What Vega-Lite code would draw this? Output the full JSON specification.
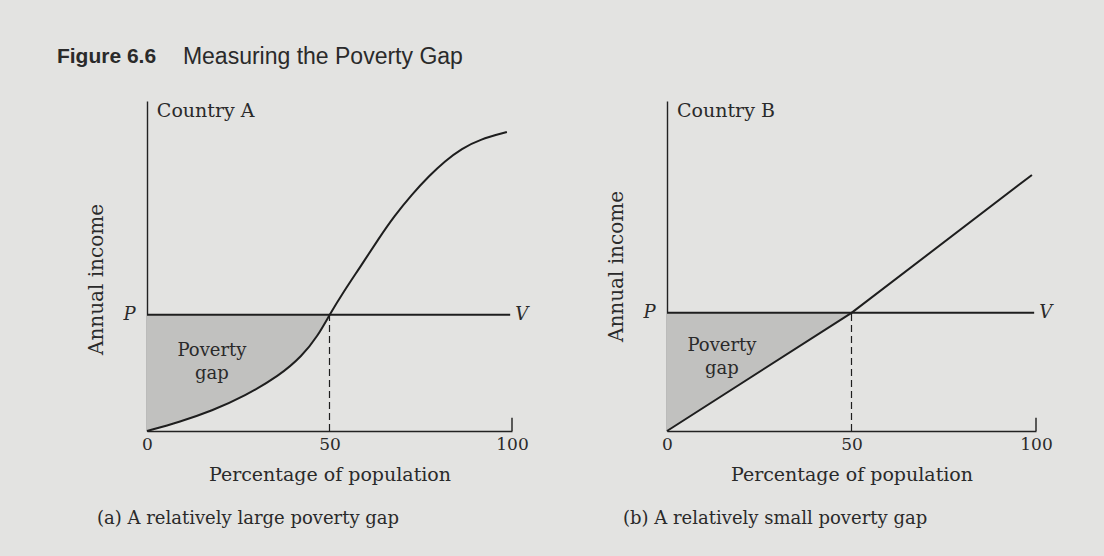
{
  "$schema": "https://vega.github.io/schema/vega-lite/v6.json",
  "background": "#e3e3e1",
  "padding": {"left": 56, "top": 46, "right": 57, "bottom": 30},
  "config": {
    "view": {"stroke": null},
    "font": "DejaVu Serif",
    "axis": {
      "domainColor": "#222222",
      "domainWidth": 1.4,
      "grid": false,
      "ticks": false,
      "tickSize": 0,
      "labelFont": "DejaVu Serif",
      "labelColor": "#2a2a2a",
      "titleFont": "DejaVu Serif",
      "titleFontWeight": "normal",
      "titleColor": "#2a2a2a",
      "labelFlush": false
    }
  },
  "datasets": {
    "curveA": [
      {"x": 0, "y": 0},
      {"x": 8.8, "y": 2.7},
      {"x": 17.8, "y": 6.1},
      {"x": 26.8, "y": 10.6},
      {"x": 36.2, "y": 16.7},
      {"x": 42.5, "y": 22.7},
      {"x": 46.8, "y": 28.8},
      {"x": 50, "y": 35.2},
      {"x": 53.8, "y": 42.1},
      {"x": 58.6, "y": 50.0},
      {"x": 63.4, "y": 58.2},
      {"x": 67.8, "y": 65.2},
      {"x": 72.5, "y": 71.6},
      {"x": 77.3, "y": 77.3},
      {"x": 81.6, "y": 81.8},
      {"x": 86.3, "y": 85.6},
      {"x": 91.0, "y": 88.3},
      {"x": 98.6, "y": 90.6}
    ],
    "lineB": [
      {"x": 0, "y": 0},
      {"x": 50, "y": 35.8},
      {"x": 98.9, "y": 77.6}
    ],
    "one": [{}]
  },
  "title": {
    "text": "Figure 6.6",
    "anchor": "start",
    "font": "Liberation Sans",
    "fontSize": 21,
    "fontWeight": "bold",
    "color": "#2a2a2a",
    "dx": -30,
    "dy": 21,
    "offset": 0
  },
  "vconcat": [
    {
      "title": {
        "text": "Measuring the Poverty Gap",
        "anchor": "start",
        "font": "Liberation Sans",
        "fontSize": 23,
        "fontWeight": "normal",
        "color": "#2a2a2a",
        "dx": 96,
        "offset": 32
      },
      "spacing": 77,
      "hconcat": [
        {
          "width": 365,
          "height": 330,
          "title": {
            "text": "(a) A relatively large poverty gap",
            "orient": "bottom",
            "anchor": "start",
            "frame": "group",
            "dx": -50,
            "font": "DejaVu Serif",
            "fontSize": 18,
            "fontWeight": "normal",
            "color": "#2a2a2a",
            "offset": 26
          },
          "layer": [
            {
              "data": {"name": "curveA"},
              "transform": [{"filter": "datum.x <= 50"}],
              "mark": {"type": "area", "color": "#c1c1bf", "interpolate": "basis"},
              "encoding": {
                "x": {
                  "field": "x", "type": "quantitative",
                  "scale": {"domain": [0, 100], "nice": false},
                  "axis": {"title": "Percentage of population", "values": [0, 50, 100], "format": "d", "labelPadding": 5, "labelFontSize": 17, "titleFontSize": 19, "titlePadding": 13}
                },
                "y": {
                  "field": "y", "type": "quantitative",
                  "scale": {"domain": [0, 100], "nice": false},
                  "axis": {"title": "Annual income", "values": [35.2], "labelExpr": "'P'", "labelFontStyle": "italic", "labelFontSize": 18, "labelPadding": 12, "titleFontSize": 20, "titlePadding": 16, "titleY": 178}
                },
                "y2": {"datum": 35.2}
              }
            },
            {
              "data": {"name": "curveA"},
              "mark": {"type": "line", "color": "#1e1e1e", "strokeWidth": 2, "interpolate": "basis"},
              "encoding": {
                "x": {"field": "x", "type": "quantitative"},
                "y": {"field": "y", "type": "quantitative"}
              }
            },
            {
              "data": {"name": "one"},
              "mark": {"type": "rule", "color": "#1e1e1e", "strokeWidth": 2},
              "encoding": {"x": {"datum": 0}, "x2": {"datum": 99.5}, "y": {"datum": 35.2}}
            },
            {
              "data": {"name": "one"},
              "mark": {"type": "rule", "color": "#1e1e1e", "strokeWidth": 1.2, "strokeDash": [7, 4]},
              "encoding": {"x": {"datum": 50}, "y": {"datum": 0}, "y2": {"datum": 35.2}}
            },
            {
              "data": {"name": "one"},
              "mark": {"type": "rule", "color": "#1e1e1e", "strokeWidth": 1.4},
              "encoding": {"x": {"datum": 100}, "y": {"datum": 0}, "y2": {"datum": 4}}
            },
            {
              "data": {"name": "one"},
              "mark": {"type": "text", "align": "left", "baseline": "middle", "fontSize": 19, "color": "#2a2a2a"},
              "encoding": {"x": {"datum": 2.7}, "y": {"datum": 97}, "text": {"value": "Country A"}}
            },
            {
              "data": {"name": "one"},
              "mark": {"type": "text", "align": "center", "baseline": "middle", "fontSize": 18, "lineHeight": 23, "color": "#2a2a2a"},
              "encoding": {"x": {"datum": 17.8}, "y": {"datum": 24.3}, "text": {"value": ["Poverty", "gap"]}}
            },
            {
              "data": {"name": "one"},
              "mark": {"type": "text", "align": "left", "baseline": "middle", "fontSize": 18, "fontStyle": "italic", "dx": 5, "color": "#2a2a2a"},
              "encoding": {"x": {"datum": 99.5}, "y": {"datum": 35.2}, "text": {"value": "V"}}
            }
          ]
        },
        {
          "width": 369,
          "height": 330,
          "title": {
            "text": "(b) A relatively small poverty gap",
            "orient": "bottom",
            "anchor": "start",
            "frame": "group",
            "dx": -44,
            "font": "DejaVu Serif",
            "fontSize": 18,
            "fontWeight": "normal",
            "color": "#2a2a2a",
            "offset": 26
          },
          "layer": [
            {
              "data": {"name": "lineB"},
              "transform": [{"filter": "datum.x <= 50"}],
              "mark": {"type": "area", "color": "#c1c1bf"},
              "encoding": {
                "x": {
                  "field": "x", "type": "quantitative",
                  "scale": {"domain": [0, 100], "nice": false},
                  "axis": {"title": "Percentage of population", "values": [0, 50, 100], "format": "d", "labelPadding": 5, "labelFontSize": 17, "titleFontSize": 19, "titlePadding": 13}
                },
                "y": {
                  "field": "y", "type": "quantitative",
                  "scale": {"domain": [0, 100], "nice": false},
                  "axis": {"title": "Annual income", "values": [35.8], "labelExpr": "'P'", "labelFontStyle": "italic", "labelFontSize": 18, "labelPadding": 12, "titleFontSize": 20, "titlePadding": 16}
                },
                "y2": {"datum": 35.8}
              }
            },
            {
              "data": {"name": "lineB"},
              "mark": {"type": "line", "color": "#1e1e1e", "strokeWidth": 2},
              "encoding": {
                "x": {"field": "x", "type": "quantitative"},
                "y": {"field": "y", "type": "quantitative"}
              }
            },
            {
              "data": {"name": "one"},
              "mark": {"type": "rule", "color": "#1e1e1e", "strokeWidth": 2},
              "encoding": {"x": {"datum": 0}, "x2": {"datum": 99.5}, "y": {"datum": 35.8}}
            },
            {
              "data": {"name": "one"},
              "mark": {"type": "rule", "color": "#1e1e1e", "strokeWidth": 1.2, "strokeDash": [7, 4]},
              "encoding": {"x": {"datum": 50}, "y": {"datum": 0}, "y2": {"datum": 35.8}}
            },
            {
              "data": {"name": "one"},
              "mark": {"type": "rule", "color": "#1e1e1e", "strokeWidth": 1.4},
              "encoding": {"x": {"datum": 100}, "y": {"datum": 0}, "y2": {"datum": 4}}
            },
            {
              "data": {"name": "one"},
              "mark": {"type": "text", "align": "left", "baseline": "middle", "fontSize": 19, "color": "#2a2a2a"},
              "encoding": {"x": {"datum": 2.7}, "y": {"datum": 97}, "text": {"value": "Country B"}}
            },
            {
              "data": {"name": "one"},
              "mark": {"type": "text", "align": "center", "baseline": "middle", "fontSize": 18, "lineHeight": 23, "color": "#2a2a2a"},
              "encoding": {"x": {"datum": 14.9}, "y": {"datum": 25.7}, "text": {"value": ["Poverty", "gap"]}}
            },
            {
              "data": {"name": "one"},
              "mark": {"type": "text", "align": "left", "baseline": "middle", "fontSize": 18, "fontStyle": "italic", "dx": 5, "color": "#2a2a2a"},
              "encoding": {"x": {"datum": 99.5}, "y": {"datum": 35.8}, "text": {"value": "V"}}
            }
          ]
        }
      ]
    }
  ]
}
